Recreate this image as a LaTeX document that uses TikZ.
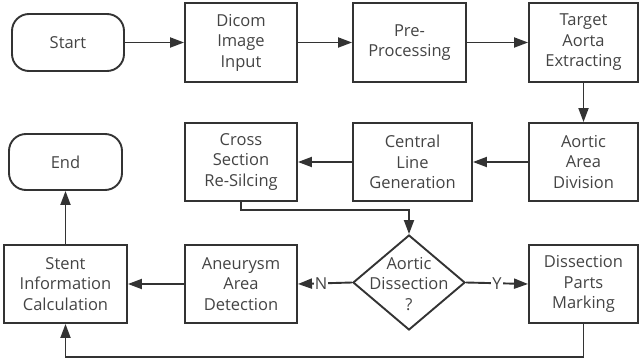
\documentclass[tikz,border=0pt]{standalone}
\usepackage{fontspec}
\setmainfont{Open Sans}
\usetikzlibrary{arrows.meta,shapes.geometric}
\definecolor{ln}{HTML}{333333}
\definecolor{tx}{HTML}{444444}
\tikzset{
  box/.style={draw=ln, line width=1.9pt, rectangle, inner sep=0pt, align=center,
    text=tx, font=\fontsize{16.5}{20.5}\selectfont},
  term/.style={box, rounded corners=17pt},
  arr/.style={draw=ln, line width=1.9pt, -{Triangle[length=14pt,width=10pt]}},
  lbl/.style={fill=white, text=tx, inner sep=1pt, font=\fontsize{16.5}{20.5}\selectfont},
}
\begin{document}
\begin{tikzpicture}[x=1pt,y=-1pt]
\useasboundingbox (0,0) rectangle (639,363);
\node[term, minimum width=112pt, minimum height=57pt] (start) at (68,42.5) {Start};
\node[box, minimum width=112pt, minimum height=79pt] (dicom) at (241,42.5) {Dicom\\Image\\Input};
\node[box, minimum width=113pt, minimum height=79pt] (pre) at (409.5,42.5) {Pre-\\Processing};
\node[box, minimum width=109pt, minimum height=79pt] (target) at (583.5,42.5) {Target\\Aorta\\Extracting};
\node[box, minimum width=109pt, minimum height=78pt] (aad) at (583.5,162) {Aortic\\Area\\Division};
\node[box, minimum width=119pt, minimum height=78pt] (central) at (412.5,162) {Central\\Line\\Generation};
\node[box, minimum width=112pt, minimum height=78pt] (cross) at (241,162) {Cross\\Section\\Re-Silcing};
\node[term, minimum width=113pt, minimum height=56pt] (end) at (65.5,162) {End};
\node[box, minimum width=123pt, minimum height=78pt] (stent) at (65.5,284) {Stent\\Information\\Calculation};
\node[box, minimum width=112pt, minimum height=78pt] (aneu) at (241,284) {Aneurysm\\Area\\Detection};
\node[draw=ln, line width=1.9pt, diamond, inner sep=0pt, minimum width=112pt, minimum height=95pt] (dia) at (409,282.5) {};
\node[text=tx, align=center, font=\fontsize{16.5}{20.5}\selectfont] (dialbl) at (409,284) {Aortic\\Dissection\\?};
\node[box, minimum width=109pt, minimum height=78pt] (dpm) at (583.5,284) {Dissection\\Parts\\Marking};

\draw[arr] (start) -- (dicom);
\draw[arr] (dicom) -- (pre);
\draw[arr] (pre) -- (target);
\draw[arr] (target) -- (aad);
\draw[arr] (aad) -- (central);
\draw[arr] (central) -- (cross);
\draw[arr] (cross.south) -- ++(0,8) -| (dia.north);
\draw[arr] (dia.west) -- node[lbl, pos=0.57] {N} (aneu.east);
\draw[arr] (dia.east) -- node[lbl, pos=0.5] {Y} (dpm.west);
\draw[arr] (aneu) -- (stent);
\draw[arr] (dpm.south) -- ++(0,33) -| (stent.south);
\draw[arr] (stent) -- (end);
\end{tikzpicture}
\end{document}
